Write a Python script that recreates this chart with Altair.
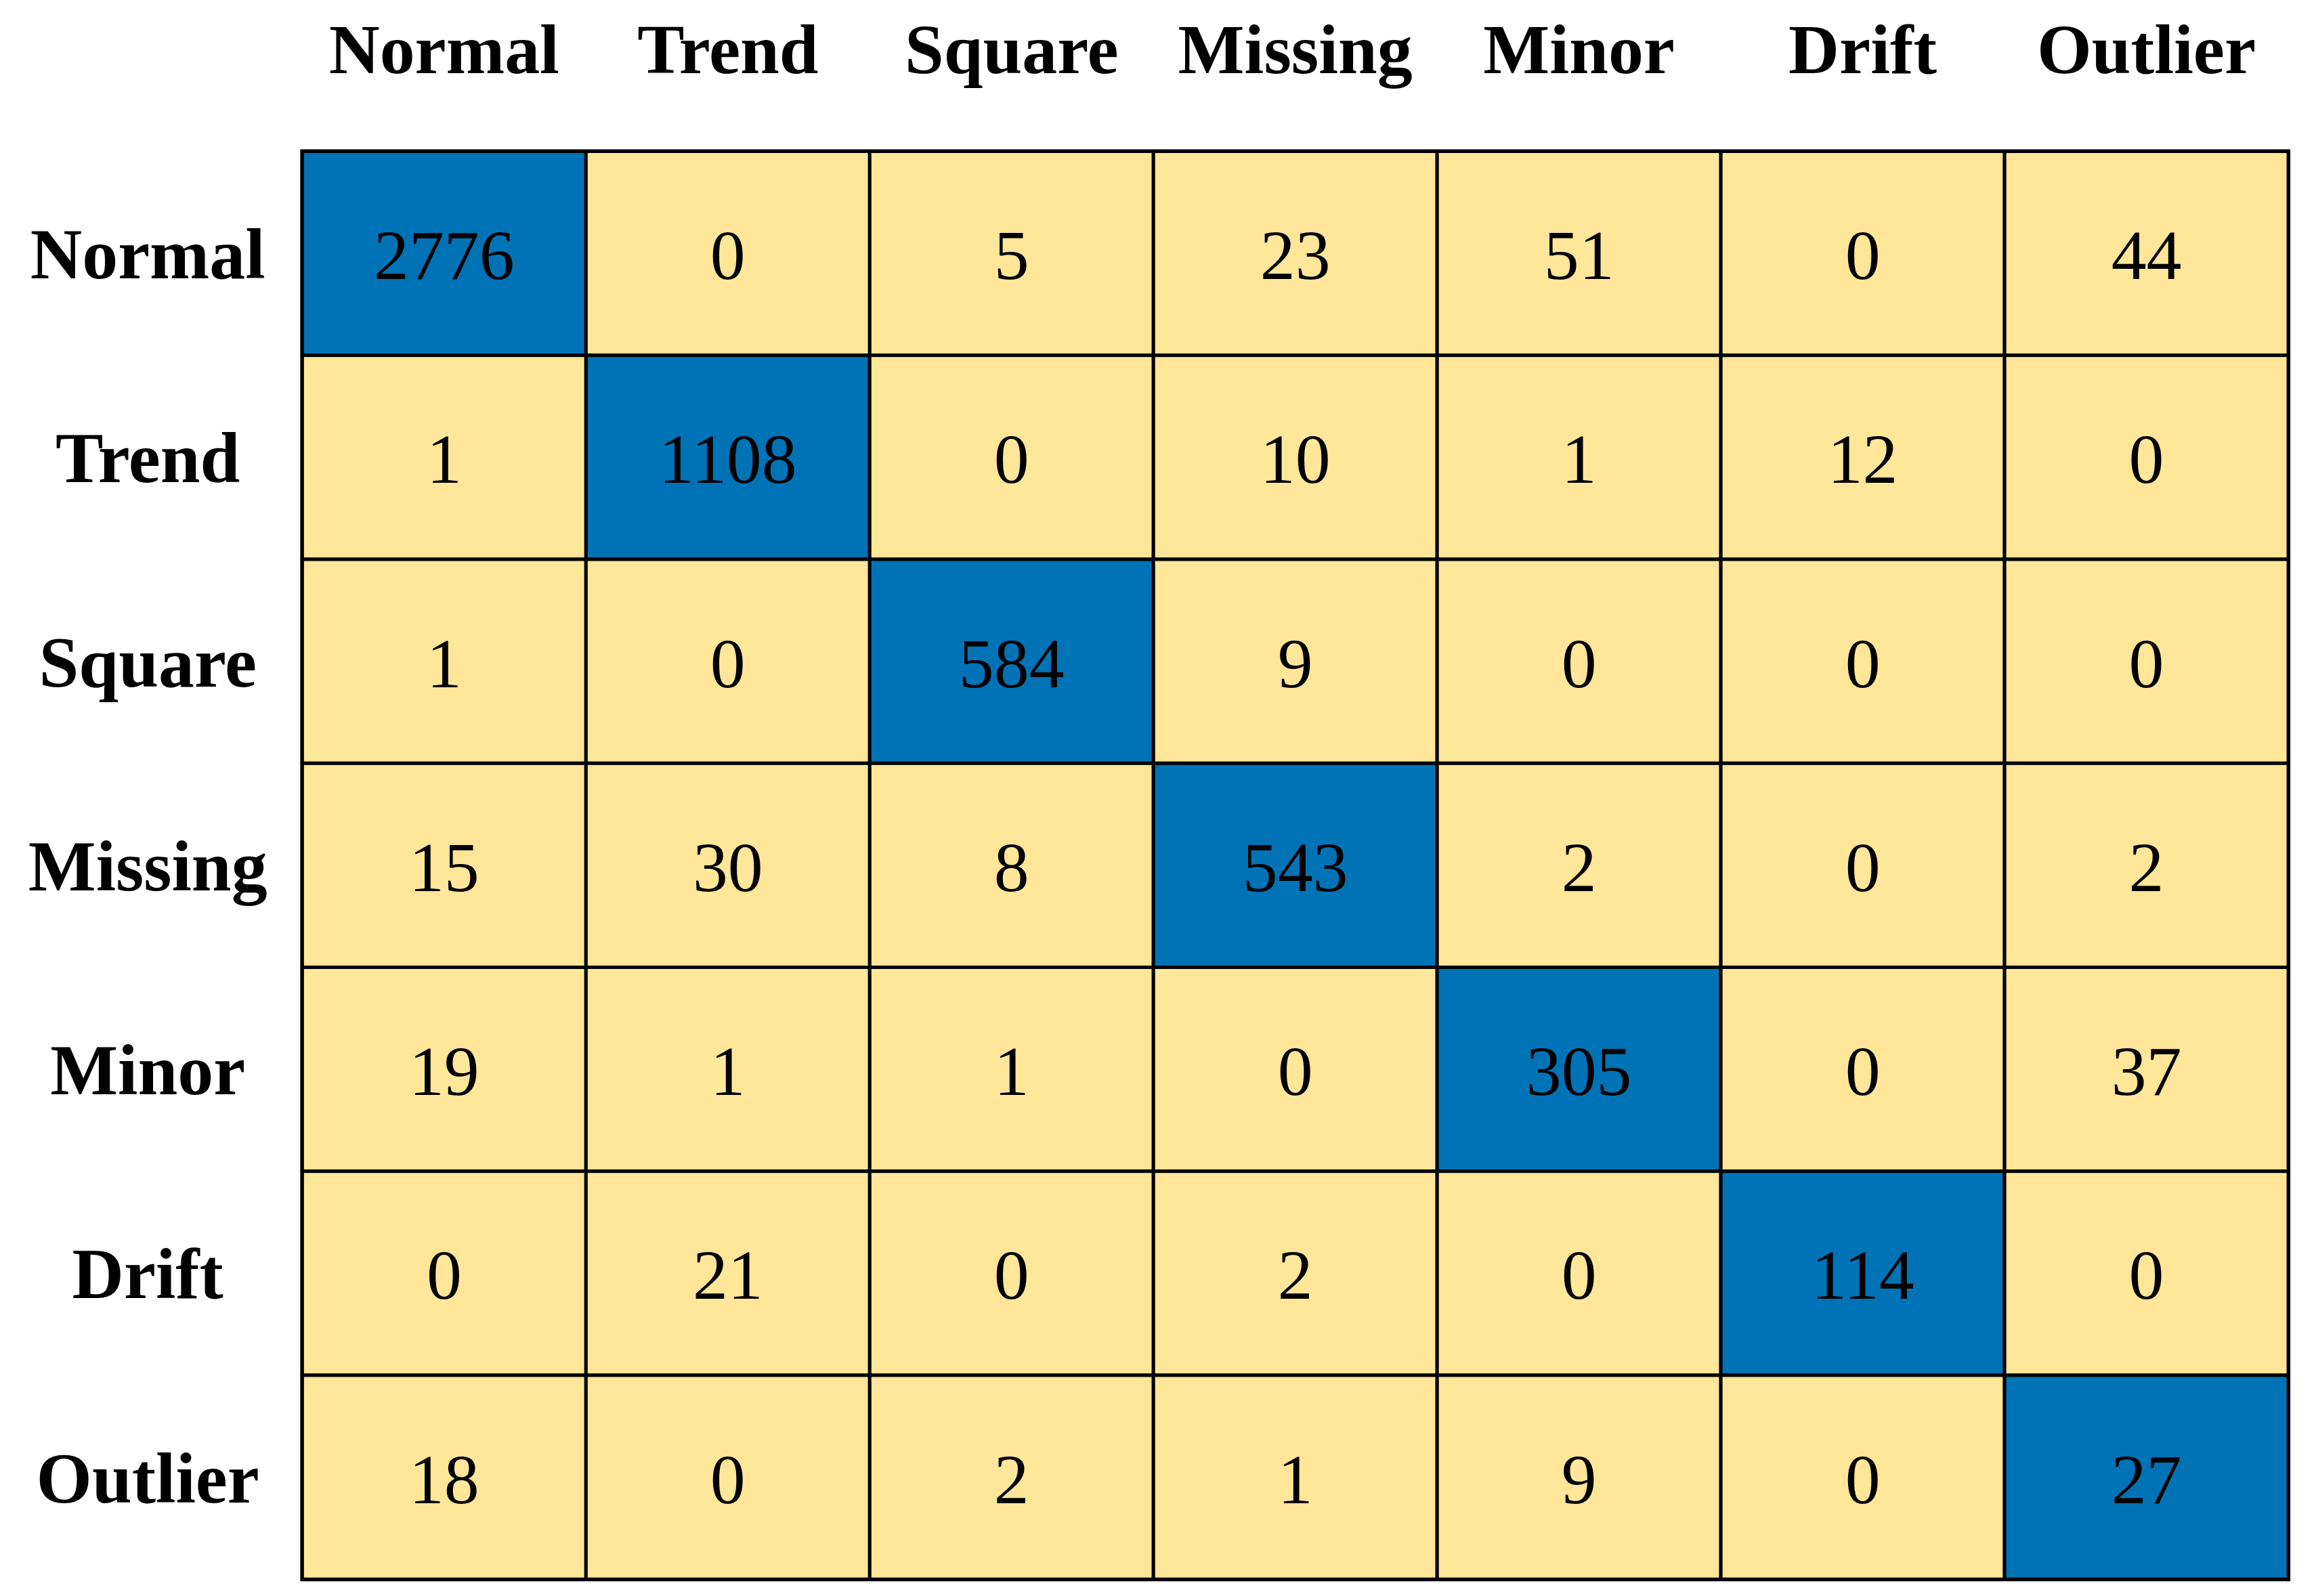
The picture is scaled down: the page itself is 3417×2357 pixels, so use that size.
import altair as alt
import pandas as pd

classes = ["Normal", "Trend", "Square", "Missing", "Minor", "Drift", "Outlier"]
row_normal = [2776, 0, 5, 23, 51, 0, 44]
row_trend = [1, 1108, 0, 10, 1, 12, 0]
row_square = [1, 0, 584, 9, 0, 0, 0]
row_missing = [15, 30, 8, 543, 2, 0, 2]
row_minor = [19, 1, 1, 0, 305, 0, 37]
row_drift = [0, 21, 0, 2, 0, 114, 0]
row_outlier = [18, 0, 2, 1, 9, 0, 27]

rows = [row_normal, row_trend, row_square, row_missing, row_minor, row_drift, row_outlier]

records = []
for actual, vals in zip(classes, rows):
    for pred, v in zip(classes, vals):
        records.append({"actual": actual, "predicted": pred, "count": v,
                        "kind": "diag" if actual == pred else "off"})
df = pd.DataFrame(records)

FONT = "Liberation Serif"
BLUE = "#0073B7"
YELLOW = "#FFE699"

x_enc = alt.X("predicted:N", sort=classes,
              scale=alt.Scale(paddingInner=0, paddingOuter=0),
              axis=alt.Axis(orient="top", title=None, labelAngle=0, ticks=False, domain=False,
                            labelFont=FONT, labelFontSize=104, labelFontWeight="bold",
                            labelColor="black", labelBaseline="alphabetic", labelPadding=116,
                            labelLimit=0))
y_enc = alt.Y("actual:N", sort=classes,
              scale=alt.Scale(paddingInner=0, paddingOuter=0),
              axis=alt.Axis(title=None, ticks=False, domain=False,
                            labelFont=FONT, labelFontSize=106, labelFontWeight="bold",
                            labelColor="black", labelAlign="center", labelBaseline="middle",
                            labelPadding=229, labelLimit=0, labelOffset=5))

base = alt.Chart(df)

cells = base.mark_rect(stroke="black", strokeWidth=5).encode(
    x=x_enc,
    y=y_enc,
    color=alt.Color("kind:N", scale=alt.Scale(domain=["diag", "off"], range=[BLUE, YELLOW]),
                    legend=None),
)

labels = base.mark_text(font=FONT, fontSize=104, color="black", baseline="middle",
                        align="center", dy=7).encode(
    x=alt.X("predicted:N", sort=classes),
    y=alt.Y("actual:N", sort=classes),
    text=alt.Text("count:Q"),
)

chart = (cells + labels).properties(
    width=2937, height=2112,
    autosize=alt.AutoSizeParams(type="none"),
    padding={"left": 439, "top": 214, "right": 30, "bottom": 20},
).configure_view(stroke="black", strokeWidth=6)

chart.save("out.html", embed_options={"renderer": "svg", "actions": False})
